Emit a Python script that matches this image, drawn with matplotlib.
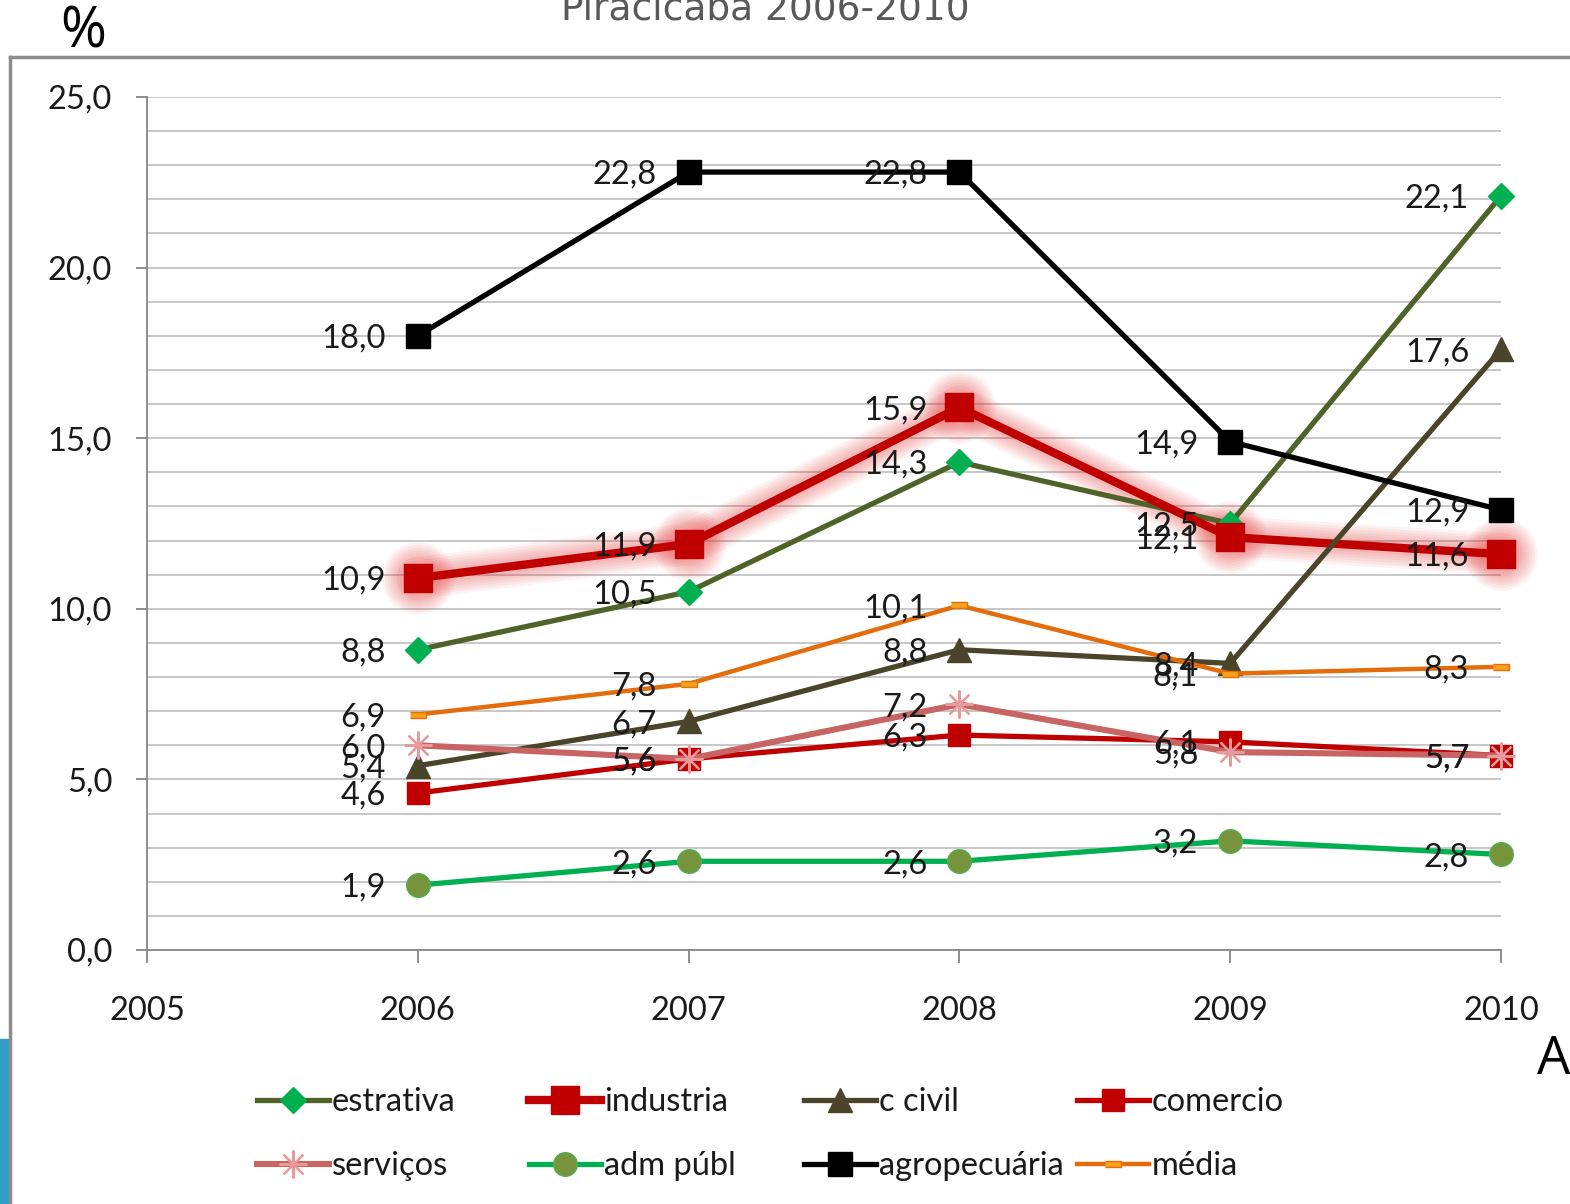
import matplotlib
matplotlib.use("Agg")
import matplotlib.pyplot as plt
from matplotlib.lines import Line2D
from matplotlib.patches import Rectangle
from matplotlib.ticker import FuncFormatter, MultipleLocator

plt.rcParams["font.family"] = ["Lato", "DejaVu Sans"]

years = [2006, 2007, 2008, 2009, 2010]

estrativa = [8.8, 10.5, 14.3, 12.5, 22.1]
industria = [10.9, 11.9, 15.9, 12.1, 11.6]
c_civil = [5.4, 6.7, 8.8, 8.4, 17.6]
comercio = [4.6, 5.6, 6.3, 6.1, 5.7]
servicos = [6.0, 5.6, 7.2, 5.8, 5.7]
adm_publ = [1.9, 2.6, 2.6, 3.2, 2.8]
agropecuaria = [18.0, 22.8, 22.8, 14.9, 12.9]
media = [6.9, 7.8, 10.1, 8.1, 8.3]

dash = [(-1, -0.35), (1, -0.35), (1, 0.35), (-1, 0.35)]

# name, values, line colour, width, marker, size, face, edge
series = [
    ("estrativa", estrativa, "#4F6228", 3.8, "D", 13, "#00B050", "#00B050"),
    ("industria", industria, "#C00000", 6.0, "s", 20, "#C00000", "#C00000"),
    ("c civil", c_civil, "#4A452A", 3.8, "^", 17, "#4A452A", "#4A452A"),
    ("comercio", comercio, "#C00000", 3.8, "s", 16, "#C00000", "#C00000"),
    ("serviços", servicos, "#C86464", 4.4, (8, 2, 0), 20, "#E89A9A", "#E89A9A"),
    ("adm públ", adm_publ, "#00B050", 3.8, "o", 17, "#77933C", "#4CAF50"),
    ("agropecuária", agropecuaria, "#000000", 3.8, "s", 17, "#000000", "#000000"),
    ("média", media, "#E46C0A", 3.2, dash, 11, "#F7A21B", "#E46C0A"),
]

fs = 23.5

fig = plt.figure(figsize=(15.7, 12.04), dpi=100)
ax = fig.add_axes([147 / 1570, 254 / 1204, 1354 / 1570, 853 / 1204])

# soft glow behind industria
for w in [30, 26, 22, 18, 14, 10]:
    ax.plot(years, industria, color="#E83A3A", lw=w, alpha=0.07, marker="o",
            markersize=22 + w, markeredgewidth=0, solid_joinstyle="round",
            solid_capstyle="round", zorder=2, clip_on=False)

handles = []
for i, (name, vals, col, lw, mk, ms, fc, ec) in enumerate(series):
    mew = 1.6 if name == "serviços" else 1.0
    line, = ax.plot(years, vals, color=col, lw=lw, marker=mk, markersize=ms,
                    markerfacecolor=fc, markeredgecolor=ec, markeredgewidth=mew,
                    label=name, zorder=3 + i, clip_on=False)
    handles.append(line)
    for x, v in zip(years, vals):
        ax.annotate(("%.1f" % v).replace(".", ","), (x, v), xytext=(-23, -2),
                    textcoords="offset points", ha="right", va="center",
                    fontsize=fs, color="#1a1a1a", zorder=20)

ax.set_xlim(2005, 2010)
ax.set_ylim(0, 25)
ax.xaxis.set_major_locator(MultipleLocator(1))
ax.yaxis.set_major_locator(MultipleLocator(5))
ax.yaxis.set_minor_locator(MultipleLocator(1))
ax.yaxis.set_major_formatter(FuncFormatter(lambda v, p: ("%.1f" % v).replace(".", ",")))
ax.xaxis.set_major_formatter(FuncFormatter(lambda v, p: "%d" % v))
ax.grid(True, which="both", axis="y", color="#BEBEBE", lw=1.2)
ax.set_axisbelow(True)
for s in ["top", "right"]:
    ax.spines[s].set_visible(False)
for s in ["left", "bottom"]:
    ax.spines[s].set_color("#868686")
    ax.spines[s].set_linewidth(1.3)
ax.tick_params(axis="y", which="major", length=8, width=1.3, color="#868686",
               pad=17, labelsize=fs, labelcolor="#1a1a1a")
ax.tick_params(axis="y", which="minor", length=0)
ax.tick_params(axis="x", length=9, width=1.3, color="#868686", pad=24,
               labelsize=fs, labelcolor="#1a1a1a")

# legend: 4 columns, 2 rows
col_x = [257, 529, 804, 1077]
for c in range(4):
    lg = fig.legend(handles=[handles[c], handles[c + 4]], loc="upper left",
                    bbox_to_anchor=(col_x[c] / 1570, 1 - 1087 / 1204),
                    frameon=False, fontsize=fs, handlelength=2.2,
                    handletextpad=0.1, labelspacing=1.05, borderpad=0,
                    borderaxespad=0)
    for t in lg.get_texts():
        t.set_color("#1a1a1a")

# title (cut off at top), % and A
fig.text(765 / 1570, 1 - 20 / 1204, "Piracicaba 2006-2010", ha="center",
         va="baseline", fontsize=27, color="#595959", family="DejaVu Sans")
fig.text(83 / 1570, 1 - 33 / 1204, "%", ha="center", va="center",
         fontsize=40, color="black", family="Open Sans")
fig.text(1537 / 1570, 1 - 1060 / 1204, "A", ha="left", va="center",
         fontsize=38, color="black", family="Open Sans")

# outer chart frame
fig.add_artist(Line2D([10 / 1570, 1.0], [1 - 57 / 1204] * 2, color="#8C8C8C", lw=2.5))
fig.add_artist(Line2D([10 / 1570] * 2, [0, 1 - 57 / 1204], color="#8C8C8C", lw=2.5))
fig.add_artist(Rectangle((0, 0), 8 / 1570, 165 / 1204, transform=fig.transFigure,
                         color="#2F9DC4"))

fig.savefig("out.png", dpi=100)
